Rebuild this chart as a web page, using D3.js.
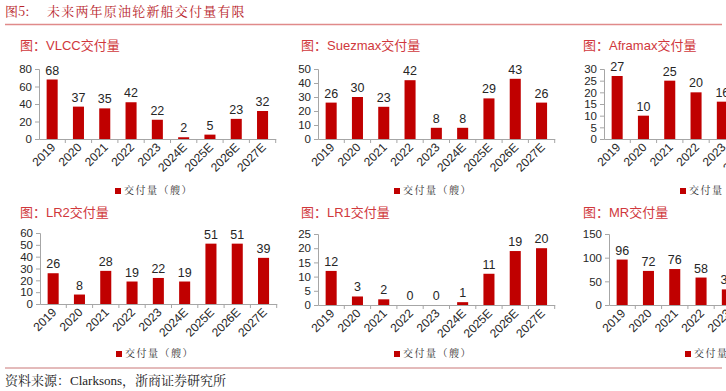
<!DOCTYPE html>
<html>
<head>
<meta charset="utf-8">
<script src="https://cdn.jsdelivr.net/npm/d3@7/dist/d3.min.js"></script>
<style>
	body { margin: 0; background: #fff; }
	svg { display: block; }
	.val { font-family: "Liberation Sans", Arial, sans-serif; font-size: 12.5px; fill: #262626; }
	.tick text { font-family: "Liberation Sans", Arial, sans-serif; font-size: 11.5px; fill: #262626; }
</style>
</head>
<body>
<svg id="chart" width="726" height="391"></svg>
<script>
var years = ["2019", "2020", "2021", "2022", "2023", "2024E", "2025E", "2026E", "2027E"];

var vlcc = [68, 37, 35, 42, 22, 2, 5, 23, 32];
var suezmax = [26, 30, 23, 42, 8, 8, 29, 43, 26];
var aframax = [27, 10, 25, 20, 16, null, null, null, null];
var lr2 = [26, 8, 28, 19, 22, 19, 51, 51, 39];
var lr1 = [12, 3, 2, 0, 0, 1, 11, 19, 20];
var mr = [96, 72, 76, 58, 33, null, null, null, null];

var titles = ["图：VLCC交付量", "图：Suezmax交付量", "图：Aframax交付量", "图：LR2交付量", "图：LR1交付量", "图：MR交付量"];
var yMax = [80, 50, 30, 60, 25, 150];
var yStep = [20, 10, 5, 10, 5, 50];
var legendText = "交付量（艘）";

var barColor = "#c00000";
var svg = d3.select("#chart");

// header
svg.append("text")
	.attr("x", 5).attr("y", 16)
	.attr("fill", "#b8232a")
	.style("font-family", "'Noto Serif CJK SC','Noto Sans CJK SC',serif")
	.style("font-size", "13px")
	.text("图5:");
svg.append("text")
	.attr("x", 47).attr("y", 16)
	.attr("fill", "#b8232a")
	.style("font-family", "'Noto Serif CJK SC','Noto Sans CJK SC',serif")
	.style("font-size", "13px")
	.style("letter-spacing", "1.2px")
	.text("未来两年原油轮新船交付量有限");
svg.append("line")
	.attr("x1", 5).attr("x2", 722).attr("y1", 24.5).attr("y2", 24.5)
	.attr("stroke", "#e08a8a").attr("stroke-width", 1.5);

// footer
svg.append("line")
	.attr("x1", 5).attr("x2", 722).attr("y1", 368).attr("y2", 368)
	.attr("stroke", "#c97676").attr("stroke-width", 1);
svg.append("text")
	.attr("x", 5).attr("y", 385)
	.attr("fill", "#222")
	.style("font-family", "'Liberation Serif','Noto Serif CJK SC','Noto Sans CJK SC',serif")
	.style("font-size", "13px")
	.text("资料来源：Clarksons，浙商证券研究所");

var panels = [
	{data: vlcc, x0: 39, top: 69, bottom: 139, tx: 20, ty: 50, ly: 192},
	{data: suezmax, x0: 318, top: 69, bottom: 139, tx: 301, ty: 50, ly: 192},
	{data: aframax, x0: 604, top: 69, bottom: 139, tx: 583, ty: 50, ly: 192},
	{data: lr2, x0: 40, top: 233, bottom: 304, tx: 20, ty: 217, ly: 355},
	{data: lr1, x0: 318, top: 234, bottom: 305, tx: 301, ty: 217, ly: 355},
	{data: mr, x0: 609, top: 234, bottom: 305, tx: 583, ty: 217, ly: 355}
];

panels.forEach(function(p, k) {
	var g = svg.append("g");
	var band = 26.3;
	var x = d3.scaleBand().domain(years).range([p.x0, p.x0 + band * years.length]).paddingInner(0.58).paddingOuter(0.29);
	var y = d3.scaleLinear().domain([0, yMax[k]]).range([p.bottom, p.top]);

	g.append("text")
		.attr("x", p.tx).attr("y", p.ty)
		.attr("fill", "#d0383c")
		.style("font-family", "'Liberation Sans','Noto Sans CJK SC',sans-serif")
		.style("font-size", "13px")
		.text(titles[k]);

	// y axis
	var yAxis = d3.axisLeft(y).tickValues(d3.range(0, yMax[k] + 0.001, yStep[k])).tickSize(4).tickPadding(3);
	var ga = g.append("g").attr("transform", "translate(" + p.x0 + ",0)").call(yAxis);
	ga.select(".domain").attr("stroke", "#a6a6a6");
	ga.selectAll(".tick line").attr("stroke", "#a6a6a6");

	// x axis with ticks on band edges
	var xAxis = d3.axisBottom(x).tickSize(0).tickPadding(0);
	var gx = g.append("g").attr("transform", "translate(0," + p.bottom + ")").call(xAxis);
	gx.select(".domain").attr("stroke", "#a6a6a6");
	gx.selectAll(".tick text")
		.style("font-size", "12px")
		.attr("text-anchor", "end")
		.attr("dy", null)
		.attr("transform", "translate(4,9) rotate(-45)");
	g.selectAll("line.edge")
		.data(years.slice(1).concat(["end"]))
		.enter().append("line")
		.attr("class", "edge")
		.attr("x1", function(d, i) { return p.x0 + band * (i + 1); })
		.attr("x2", function(d, i) { return p.x0 + band * (i + 1); })
		.attr("y1", p.bottom).attr("y2", p.bottom + 4)
		.attr("stroke", "#a6a6a6");

	var rows = years.map(function(yr, i) { return {year: yr, value: p.data[i]}; })
		.filter(function(d) { return d.value !== null; });

	g.selectAll("rect.bar").data(rows).enter().append("rect")
		.attr("class", "bar")
		.attr("x", function(d) { return x(d.year); })
		.attr("width", x.bandwidth())
		.attr("y", function(d) { return y(d.value); })
		.attr("height", function(d) { return p.bottom - y(d.value); })
		.attr("fill", barColor);

	g.selectAll("text.val").data(rows).enter().append("text")
		.attr("class", "val")
		.attr("text-anchor", "middle")
		.attr("x", function(d) { return x(d.year) + x.bandwidth() / 2; })
		.attr("y", function(d) { return y(d.value) - 5; })
		.text(function(d) { return d.value; });

	// legend
	var lx = p.x0 + 76;
	g.append("rect").attr("x", lx).attr("y", p.ly - 4).attr("width", 6).attr("height", 6).attr("fill", barColor);
	g.append("text")
		.attr("x", lx + 9).attr("y", p.ly + 2)
		.attr("fill", "#333")
		.style("font-family", "'Noto Serif CJK SC','Noto Sans CJK SC',serif")
		.style("font-size", "10px")
		.style("letter-spacing", "1.5px")
		.text(legendText);
});
</script>
</body>
</html>
